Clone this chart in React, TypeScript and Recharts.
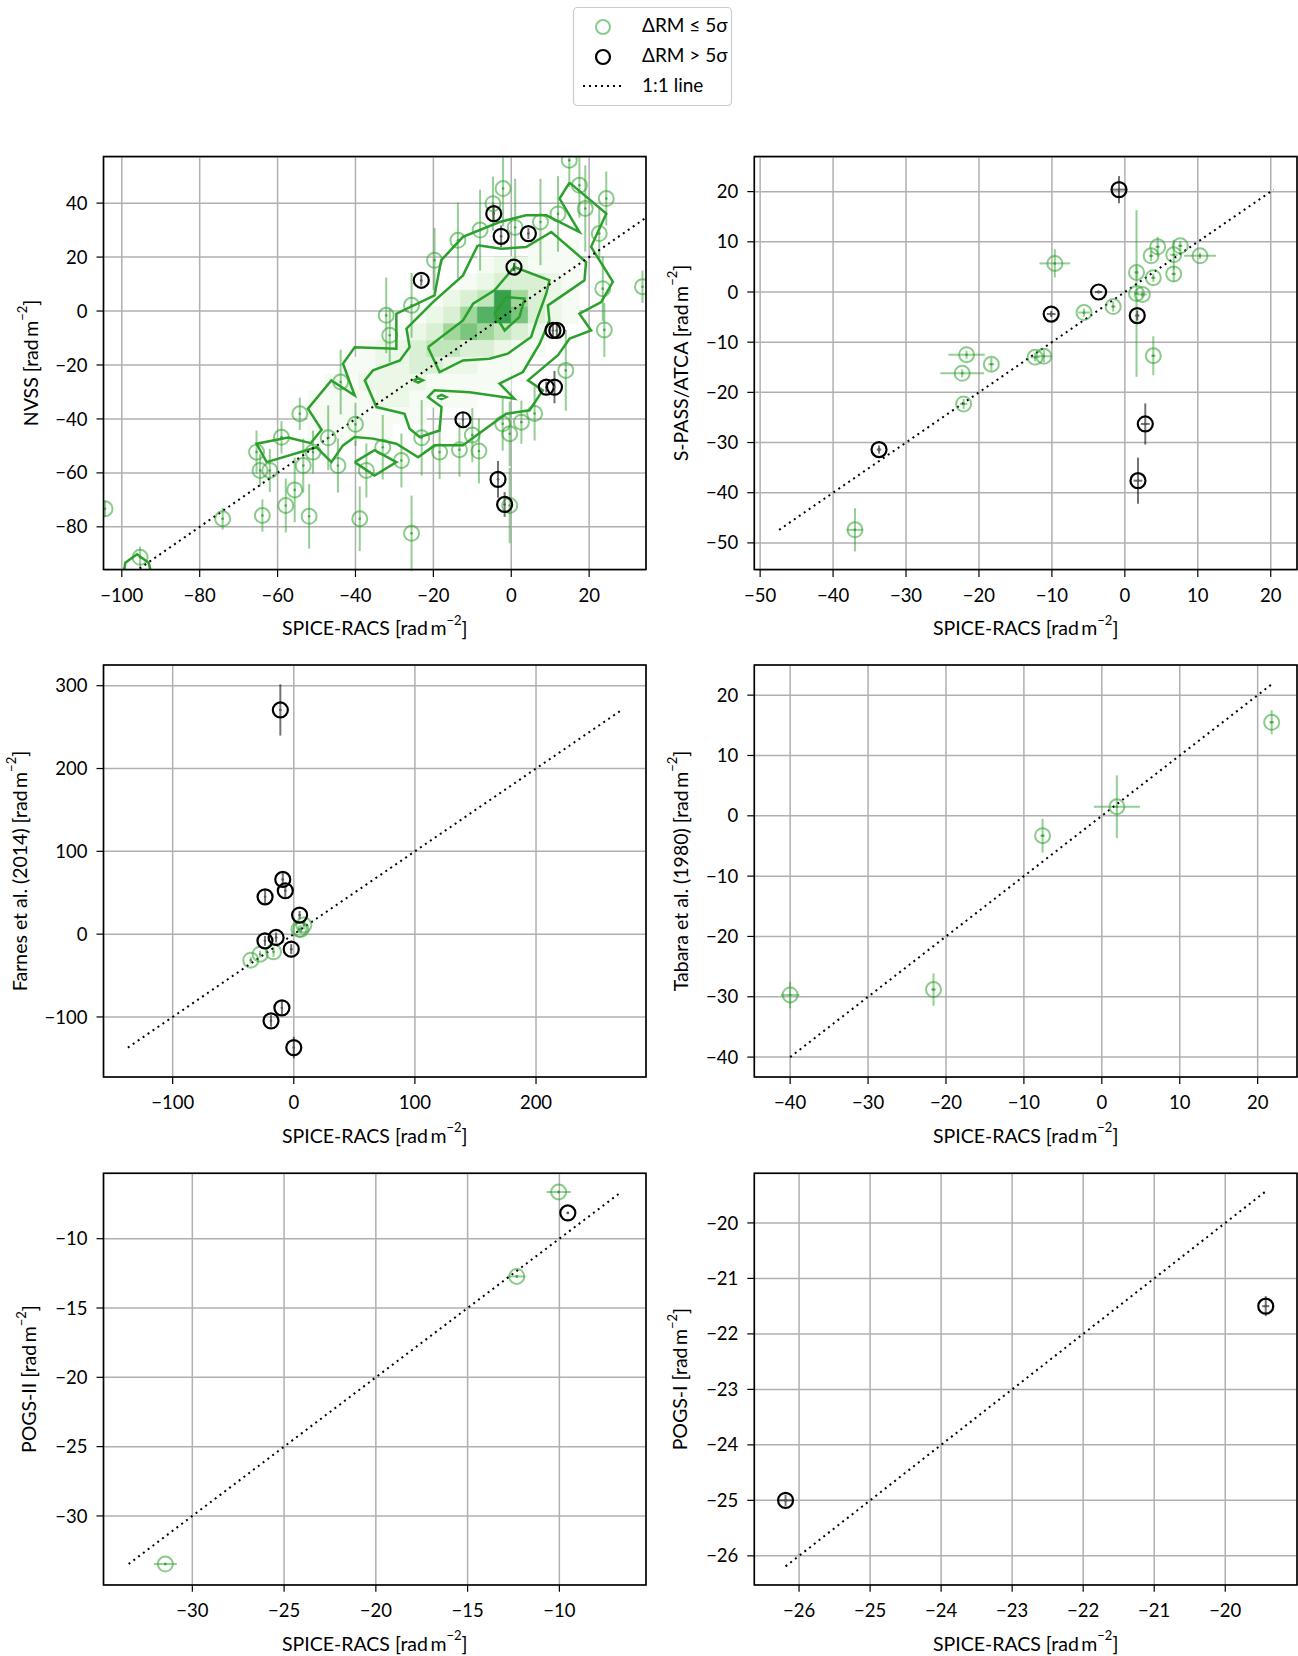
import React from 'react';
import {
  ComposedChart, Scatter, Line, XAxis, YAxis, CartesianGrid, ErrorBar, ReferenceArea,
} from 'recharts';

const FONT = 'Lato, "Noto Sans", "DejaVu Sans", sans-serif';
const GREEN = '#2ca02c';

// rows: [x, y, xErr, yErr] in rad m^-2
const nvssGreen = [
  [-104.3, -73.3, 0, 3], [-95.3, -91.3, 0, 4], [-74.1, -77.0, 0, 4], [-65.4, -52.3, 0, 8],
  [-64.5, -59.1, 0, 6], [-62.0, -59.1, 0, 8], [-63.9, -75.8, 0, 6], [-59.0, -46.8, 0, 6],
  [-57.9, -72.1, 0, 10], [-55.6, -66.3, 0, 12], [-51.9, -76.1, 0, 12], [-53.4, -57.3, 0, 10],
  [-54.3, -38.1, 0, 6], [-50.9, -52.3, 0, 8], [-44.5, -57.3, 0, 10], [-43.8, -26.3, 0, 12],
  [-38.9, -77.0, 0, 12], [-37.2, -59.1, 0, 10], [-28.2, -55.4, 0, 10], [-25.6, -82.4, 0, 14],
  [-18.4, -52.3, 0, 10], [-13.3, -51.4, 0, 10], [-8.3, -51.9, 0, 12], [-0.4, -45.5, 0, 12],
  [2.6, -41.2, 0, 8], [-0.4, -72.1, 0, 14], [-32.1, -1.6, 0, 14], [-31.2, -9.0, 0, 10],
  [-25.6, 2.1, 0, 12], [-19.7, 18.8, 0, 12], [-13.7, 26.2, 0, 14], [-4.7, 39.8, 0, 10],
  [-2.1, 45.4, 0, 14], [14.9, 55.9, 0, 10], [17.5, 46.6, 0, 12], [24.4, 41.7, 0, 10],
  [22.6, 28.7, 0, 10], [33.7, 9.0, 0, 6], [23.5, 8.3, 0, 12], [23.9, -7.0, 0, 10],
  [-2.2, -41.8, 0, 10], [1.0, 31.0, 0, 18], [7.5, 33.0, 0, 16], [12.0, 36.0, 0, 14],
  [19.0, 38.0, 0, 16], [-8.0, 30.0, 0, 15], [-23.0, -47.0, 0, 14], [-33.0, -50.5, 0, 12],
  [-47.0, -47.0, 0, 12], [-10.0, -46.0, 0, 10], [6.0, -38.0, 0, 10], [14.0, -22.0, 0, 15],
  [-40.0, -42.0, 0, 8],
];
const nvssBlack = [
  [-4.5, 36.1, 0, 3], [-2.6, 27.7, 0, 4], [4.4, 28.7, 0, 2], [0.7, 16.3, 0, 1.5],
  [-23.1, 11.4, 0, 2], [10.7, -7.2, 0, 2], [11.7, -7.2, 0, 2], [9.0, -28.2, 0, 2],
  [11.1, -28.2, 0, 6], [-12.4, -40.3, 0, 2.5], [-3.4, -62.4, 0, 6.8], [-1.7, -71.7, 0, 4.6],
];

// NVSS density (2D histogram of the bulk of the sample)
const heatBinX = 4.35;
const heatBinY = 6.2;
const heatRowBottom = [20.1, 13.9, 7.7, 1.5, -4.7, -10.9, -17.1, -23.3, -29.5, -35.7, -41.9, -48.1];
const heatRowFirstCol = [1, -2, -3, -5, -6, -7, -9, -10, -11, -12, -12, -12];
const heatRowLevels = [
  [1, 1, 1],
  [1, 2, 2, 1, 1, 1],
  [1, 2, 3, 3, 3, 2, 1],
  [1, 2, 3, 4, 8, 5, 3, 2, 1],
  [1, 2, 3, 5, 7, 8, 6, 3, 2, 1],
  [1, 2, 3, 5, 6, 5, 4, 3, 2, 1],
  [1, 2, 2, 3, 4, 4, 3, 3, 2, 1, 1],
  [1, 1, 2, 2, 3, 3, 2, 2, 1, 1, 1],
  [1, 1, 2, 2, 2, 2, 1, 1, 1, 1, 1],
  [1, 1, 1, 1, 2, 2, 1, 1, 1, 1],
  [1, 1, 1, 1, 1, 1, 1],
  [1, 1, 1, 1, 1],
];
const heatColors = ['#ffffff', '#f6fbf4', '#ebf7e7', '#daf0d4', '#c2e6bb', '#a2d79c', '#7bc57c', '#55b164', '#37a04b'];

// density contours [x, y]
const contourOuter = [
  [14.95, 47.6], [24.4, 36.1], [20.5, 23.8], [26.1, 10.8], [23.1, 3.3], [17.5, -1.0], [20.5, -7.2],
  [15.0, -10.2], [12.0, -16.4], [4.3, -25.7], [8.1, -29.4], [4.7, -36.8], [-1.3, -38.1],
  [-12.4, -49.8], [-19.7, -49.8], [-23.9, -54.2], [-29.5, -49.2], [-35.5, -47.3], [-40.2, -46.7],
  [-43.2, -49.8], [-46.2, -56.0], [-50.0, -50.5], [-62.8, -56.0], [-65.4, -49.2], [-57.3, -46.9],
  [-51.5, -49.0], [-48.7, -44.0], [-52.2, -36.2], [-46.2, -25.7], [-40.2, -31.3], [-43.2, -19.5],
  [-40.2, -13.4], [-29.5, -14.0], [-29.5, -1.0], [-19.7, 5.8], [-18.0, 18.8], [-12.4, 27.5],
  [-3.0, 33.0], [3.8, 35.5], [9.0, 35.5], [17.5, 29.3], [12.4, 41.7],
];
const contourMiddle = [
  [-8.6, 24.4], [-2.6, 23.1], [3.8, 23.7], [10.3, 29.3], [19.2, 18.2], [18.8, 11.4], [14.5, 7.1],
  [9.4, 2.1], [9.8, -3.5], [7.3, -12.1], [3.0, -22.6], [-3.0, -26.9], [0.8, -32.5], [-10.7, -30.1],
  [-19.7, -29.4], [-21.4, -31.9], [-17.9, -35.6], [-18.4, -44.3], [-23.5, -46.7], [-26.1, -43.6],
  [-27.4, -38.1], [-34.6, -35.6], [-37.6, -25.7], [-35.5, -22.0], [-28.6, -18.3], [-26.1, -13.4],
  [-26.9, -6.5], [-20.1, 3.3], [-12.4, 13.2],
];
const contourInner = [
  [-21.4, -13.4], [-12.4, -3.5], [-9.8, 2.7], [-4.3, 7.7], [0.8, 16.3], [9.8, 11.4], [9.0, 6.5],
  [6.8, -2.2], [5.1, -9.6], [-0.9, -15.8], [-5.6, -17.7], [-12.4, -18.3], [-18.4, -22.6],
];
const contourCore = [[-4.3, -1.0], [-1.3, 5.2], [3.4, 4.6], [2.1, -2.2], [-1.7, -7.2]];
const islandLow = [[-40.2, -56.0], [-35.1, -51.6], [-29.5, -56.0], [-35.1, -61.0]];
const islandCorner = [[-99.5, -97], [-99.1, -93.3], [-96.1, -90.2], [-93.1, -93.3], [-92.5, -97]];
const islandA = [[-25.1, -25.7], [-23.9, -24.9], [-22.7, -25.7], [-23.9, -26.5]];
const islandB = [[-19.1, -31.9], [-17.9, -31.1], [-16.7, -31.9], [-17.9, -32.7]];

const spassGreen = [
  [-37.0, -47.4, 1.1, 4.3], [-22.1, -22.3, 0.5, 1.0], [-22.3, -16.2, 3.0, 0.8], [-21.7, -12.5, 2.5, 0.8],
  [-18.3, -14.4, 0.4, 1.3], [-12.3, -13.0, 0.6, 0.8], [-11.1, -12.8, 1.0, 1.2], [-9.6, 5.7, 2.1, 2.8],
  [-5.6, -4.1, 0.8, 0.8], [-1.6, -2.9, 0.3, 1.0], [1.6, 3.9, 0.3, 1.2], [1.6, -0.3, 0.3, 16.6],
  [2.4, -0.5, 0.6, 0.6], [3.6, 7.2, 0.3, 1.0], [3.9, 2.85, 0.3, 0.8], [4.5, 9.0, 0.3, 2.0],
  [3.9, -12.7, 0.3, 3.9], [6.7, 7.4, 0.5, 3.0], [7.6, 9.2, 0.3, 1.0], [6.7, 3.6, 0.3, 1.5],
  [10.3, 7.2, 2.2, 0.6],
];
const spassBlack = [
  [-0.8, 20.4, 1.1, 2.7], [-3.6, 0.0, 0.5, 0.3], [-10.1, -4.4, 0.6, 0.6], [1.7, -4.7, 0.3, 1.0],
  [2.8, -26.3, 0.6, 4.1], [1.8, -37.6, 0.6, 4.6], [-33.7, -31.4, 0.3, 0.8],
];

const farnesGreen = [
  [-35.5, -31.4, 0, 4], [-27.8, -24.2, 0, 4], [-16.7, -21.4, 0, 6], [5.9, 5.6, 0, 5],
  [8.3, 10.9, 0, 5], [4.3, 6.0, 0, 4],
];
const farnesBlack = [
  [-11.1, 270.7, 0, 31], [-9.1, 66.1, 0, 8], [-7.0, 52.4, 0, 8], [-23.7, 45.1, 0, 8],
  [4.8, 23.0, 0, 5], [-23.8, -8.1, 0, 6], [-14.6, -4.0, 0, 6], [-2.1, -18.1, 0, 6],
  [-9.8, -89.0, 0, 8], [-18.8, -104.7, 0, 7], [0.0, -137.0, 0, 13],
];

const tabaraGreen = [
  [-40.0, -29.7, 1.2, 2.2], [-21.6, -28.8, 0.3, 2.7], [-7.6, -3.3, 0.3, 2.8],
  [1.93, 1.5, 2.95, 5.2], [21.8, 15.5, 0.3, 2.0],
];
const tabaraBlack: number[][] = [];

const pogs2Green = [[-10.04, -6.63, 0.66, 0.1], [-12.32, -12.72, 0.46, 0.1], [-31.47, -33.47, 0.63, 0.1]];
const pogs2Black = [[-9.54, -8.14, 0.05, 0.05]];

const pogs1Green: number[][] = [];
const pogs1Black = [[-26.19, -25.0, 0.1, 0.1], [-19.43, -21.5, 0.05, 0.18]];

// 1:1 line extents (min, max of the pair)
const nvssDiag = [-104.3, 56.5];
const spassDiag = [-47.4, 20.4];
const farnesDiag = [-137.0, 270.7];
const tabaraDiag = [-40.0, 21.8];
const pogs2Diag = [-33.47, -6.63];
const pogs1Diag = [-26.19, -19.43];

const toPts = (rows: number[][]) => rows.map(([x, y, ex, ey]) => ({ x, y, ex, ey }));
const toXY = (rows: number[][]) => rows.map(([x, y]) => ({ x, y }));
const diag = ([a, b]: number[]) => [{ x: a, y: a }, { x: b, y: b }];
const fmt = (v: number) => (v < 0 ? `\u2212${Math.abs(v)}` : `${v}`);

const GreenDot = (p: any) => (
  <g>
    <circle cx={p.cx} cy={p.cy} r={7.5} fill="none" stroke={GREEN} strokeOpacity={0.55} strokeWidth={2} />
    <circle cx={p.cx} cy={p.cy} r={1.3} fill={GREEN} fillOpacity={0.8} />
  </g>
);
const BlackDot = (p: any) => (
  <g>
    <circle cx={p.cx} cy={p.cy} r={7.5} fill="none" stroke="#000" strokeWidth={2.2} />
    <circle cx={p.cx} cy={p.cy} r={1.3} fill="#555" />
  </g>
);

type PanelSpec = {
  colLeft: number; L: number; R: number; T: number; B: number;
  xDomain: number[]; yDomain: number[]; xTicks: number[]; yTicks: number[];
  green: number[][]; black: number[][]; one: number[]; yLabel: string; yLabelX: number;
  density?: boolean;
};

const panels: PanelSpec[] = [
  { colLeft: 0, L: 103.5, R: 646, T: 156.5, B: 569.5, xDomain: [-104.7, 34.6], yDomain: [-96, 57.1],
    xTicks: [-100, -80, -60, -40, -20, 0, 20], yTicks: [-80, -60, -40, -20, 0, 20, 40],
    green: nvssGreen, black: nvssBlack, one: nvssDiag, yLabel: 'NVSS', yLabelX: 30, density: true },
  { colLeft: 649, L: 754.3, R: 1297, T: 156.5, B: 569.5, xDomain: [-50.8, 23.6], yDomain: [-55.4, 26.9],
    xTicks: [-50, -40, -30, -20, -10, 0, 10, 20], yTicks: [-50, -40, -30, -20, -10, 0, 10, 20],
    green: spassGreen, black: spassBlack, one: spassDiag, yLabel: 'S-PASS/ATCA', yLabelX: 680 },
  { colLeft: 0, L: 103.5, R: 646, T: 665, B: 1077, xDomain: [-157.1, 290.8], yDomain: [-172.5, 325],
    xTicks: [-100, 0, 100, 200], yTicks: [-100, 0, 100, 200, 300],
    green: farnesGreen, black: farnesBlack, one: farnesDiag, yLabel: 'Farnes et al. (2014)', yLabelX: 19 },
  { colLeft: 649, L: 754.3, R: 1297, T: 665, B: 1077, xDomain: [-44.6, 25.05], yDomain: [-43.3, 25.0],
    xTicks: [-40, -30, -20, -10, 0, 10, 20], yTicks: [-40, -30, -20, -10, 0, 10, 20],
    green: tabaraGreen, black: tabaraBlack, one: tabaraDiag, yLabel: 'Tabara et al. (1980)', yLabelX: 680 },
  { colLeft: 0, L: 103.5, R: 646, T: 1173.3, B: 1585, xDomain: [-34.84, -5.28], yDomain: [-34.96, -5.26],
    xTicks: [-30, -25, -20, -15, -10], yTicks: [-30, -25, -20, -15, -10],
    green: pogs2Green, black: pogs2Black, one: pogs2Diag, yLabel: 'POGS-II', yLabelX: 29 },
  { colLeft: 649, L: 754.3, R: 1297, T: 1173.3, B: 1585, xDomain: [-26.63, -18.99], yDomain: [-26.52, -19.1],
    xTicks: [-26, -25, -24, -23, -22, -21, -20], yTicks: [-26, -25, -24, -23, -22, -21, -20],
    green: pogs1Green, black: pogs1Black, one: pogs1Diag, yLabel: 'POGS-I', yLabelX: 680 },
];

const densityCells = heatRowBottom.flatMap((yb, r) =>
  heatRowLevels[r].map((lv, k) => {
    const col = heatRowFirstCol[r] + k;
    return (
      <ReferenceArea
        key={`h${r}-${k}`}
        x1={col * heatBinX}
        x2={(col + 1) * heatBinX}
        y1={yb}
        y2={yb + heatBinY}
        fill={heatColors[lv]}
        fillOpacity={1}
        stroke={heatColors[lv]}
        strokeWidth={0.6}
        ifOverflow="hidden"
      />
    );
  }),
);

const contourLines = [contourOuter, contourMiddle, contourInner, contourCore, islandLow, islandCorner, islandA, islandB].map((c, i) => (
  <Line
    key={`c${i}`}
    data={toXY([...c, c[0]])}
    dataKey="y"
    type="linear"
    stroke={GREEN}
    strokeWidth={2.5}
    dot={false}
    isAnimationActive={false}
  />
));

function Panel({ p }: { p: PanelSpec }) {
  const tickStyle = { fill: '#000', fontSize: 18.5, fontFamily: FONT };
  return (
    <div style={{ position: 'absolute', left: p.colLeft, top: p.T - 20 }}>
      <ComposedChart
        width={649}
        height={p.B - p.T + 100}
        margin={{ top: 20, left: p.L - p.colLeft - 60, right: p.colLeft + 649 - p.R, bottom: 50 }}
      >
        {p.density ? densityCells : null}
        <CartesianGrid stroke="#b0b0b0" strokeWidth={1.5} />
        <XAxis
          type="number" dataKey="x" domain={p.xDomain} ticks={p.xTicks} allowDataOverflow interval={0}
          height={30} axisLine={false} tickLine={{ stroke: '#000', strokeWidth: 1.2 }} tickSize={7}
          tickMargin={12} tick={tickStyle} tickFormatter={fmt}
        />
        <YAxis
          type="number" dataKey="y" domain={p.yDomain} ticks={p.yTicks} allowDataOverflow interval={0}
          width={60} axisLine={false} tickLine={{ stroke: '#000', strokeWidth: 1.2 }} tickSize={7}
          tickMargin={9} tick={tickStyle} tickFormatter={fmt}
        />
        {p.density ? contourLines : null}
        <Scatter data={toPts(p.green)} shape={GreenDot} isAnimationActive={false}>
          <ErrorBar dataKey="ex" direction="x" width={0} stroke={GREEN} strokeOpacity={0.5} strokeWidth={2} isAnimationActive={false} />
          <ErrorBar dataKey="ey" direction="y" width={0} stroke={GREEN} strokeOpacity={0.5} strokeWidth={2} isAnimationActive={false} />
        </Scatter>
        <Line
          data={diag(p.one)} dataKey="y" type="linear" stroke="#000" strokeWidth={2}
          strokeDasharray="2 4" dot={false} isAnimationActive={false}
        />
        <Scatter data={toPts(p.black)} shape={BlackDot} isAnimationActive={false}>
          <ErrorBar dataKey="ex" direction="x" width={0} stroke="#000" strokeOpacity={0.55} strokeWidth={2} isAnimationActive={false} />
          <ErrorBar dataKey="ey" direction="y" width={0} stroke="#000" strokeOpacity={0.55} strokeWidth={2} isAnimationActive={false} />
        </Scatter>
      </ComposedChart>
    </div>
  );
}

function Unit() {
  return (
    <>
      {' [rad\u2009m'}
      <tspan dy={-8} fontSize={13}>{'\u22122'}</tspan>
      <tspan dy={8}>]</tspan>
    </>
  );
}

export default function App() {
  return (
    <div style={{ position: 'absolute', left: 0, top: 0, width: 1298, height: 1656, background: '#fff', fontFamily: FONT }}>
      {panels.map((p, i) => <Panel key={i} p={p} />)}
      <svg width={1298} height={1656} style={{ position: 'absolute', left: 0, top: 0, pointerEvents: 'none' }} fontFamily={FONT}>
        {/* blank out marks that fall outside the NVSS axes */}
        <rect x={100} y={112} width={552} height={43.8} fill="#fff" />
        <rect x={90} y={490} width={12.8} height={26} fill="#fff" />
        <rect x={646.8} y={260} width={14} height={50} fill="#fff" />
        {panels.map((p, i) => (
          <g key={i}>
            <rect x={p.L} y={p.T} width={p.R - p.L} height={p.B - p.T} fill="none" stroke="#000" strokeWidth={1.6} />
            <text x={(p.L + p.R) / 2} y={p.B + 58} textAnchor="middle" dominantBaseline="central" fontSize={19.5} fill="#000">
              SPICE-RACS<Unit />
            </text>
            <text
              x={p.yLabelX} y={(p.T + p.B) / 2} transform={`rotate(-90 ${p.yLabelX} ${(p.T + p.B) / 2})`}
              textAnchor="middle" dominantBaseline="central" fontSize={19.5} fill="#000"
            >
              {p.yLabel}<Unit />
            </text>
          </g>
        ))}
        <g>
          <rect x={573.5} y={7.5} width={158} height={98} rx={4} fill="#fff" stroke="#cccccc" strokeWidth={1.2} />
          <circle cx={603} cy={27} r={7} fill="none" stroke={GREEN} strokeOpacity={0.55} strokeWidth={2} />
          <circle cx={603} cy={57} r={7} fill="none" stroke="#000" strokeWidth={2.2} />
          <line x1={583} y1={86} x2={622} y2={86} stroke="#000" strokeWidth={2} strokeDasharray="2 4" />
          <text x={642} y={24} dominantBaseline="central" fontSize={19} fill="#000">{'\u0394RM \u2264 5\u03c3'}</text>
          <text x={642} y={54} dominantBaseline="central" fontSize={19} fill="#000">{'\u0394RM > 5\u03c3'}</text>
          <text x={642} y={84} dominantBaseline="central" fontSize={19} fill="#000">1:1 line</text>
        </g>
      </svg>
    </div>
  );
}
